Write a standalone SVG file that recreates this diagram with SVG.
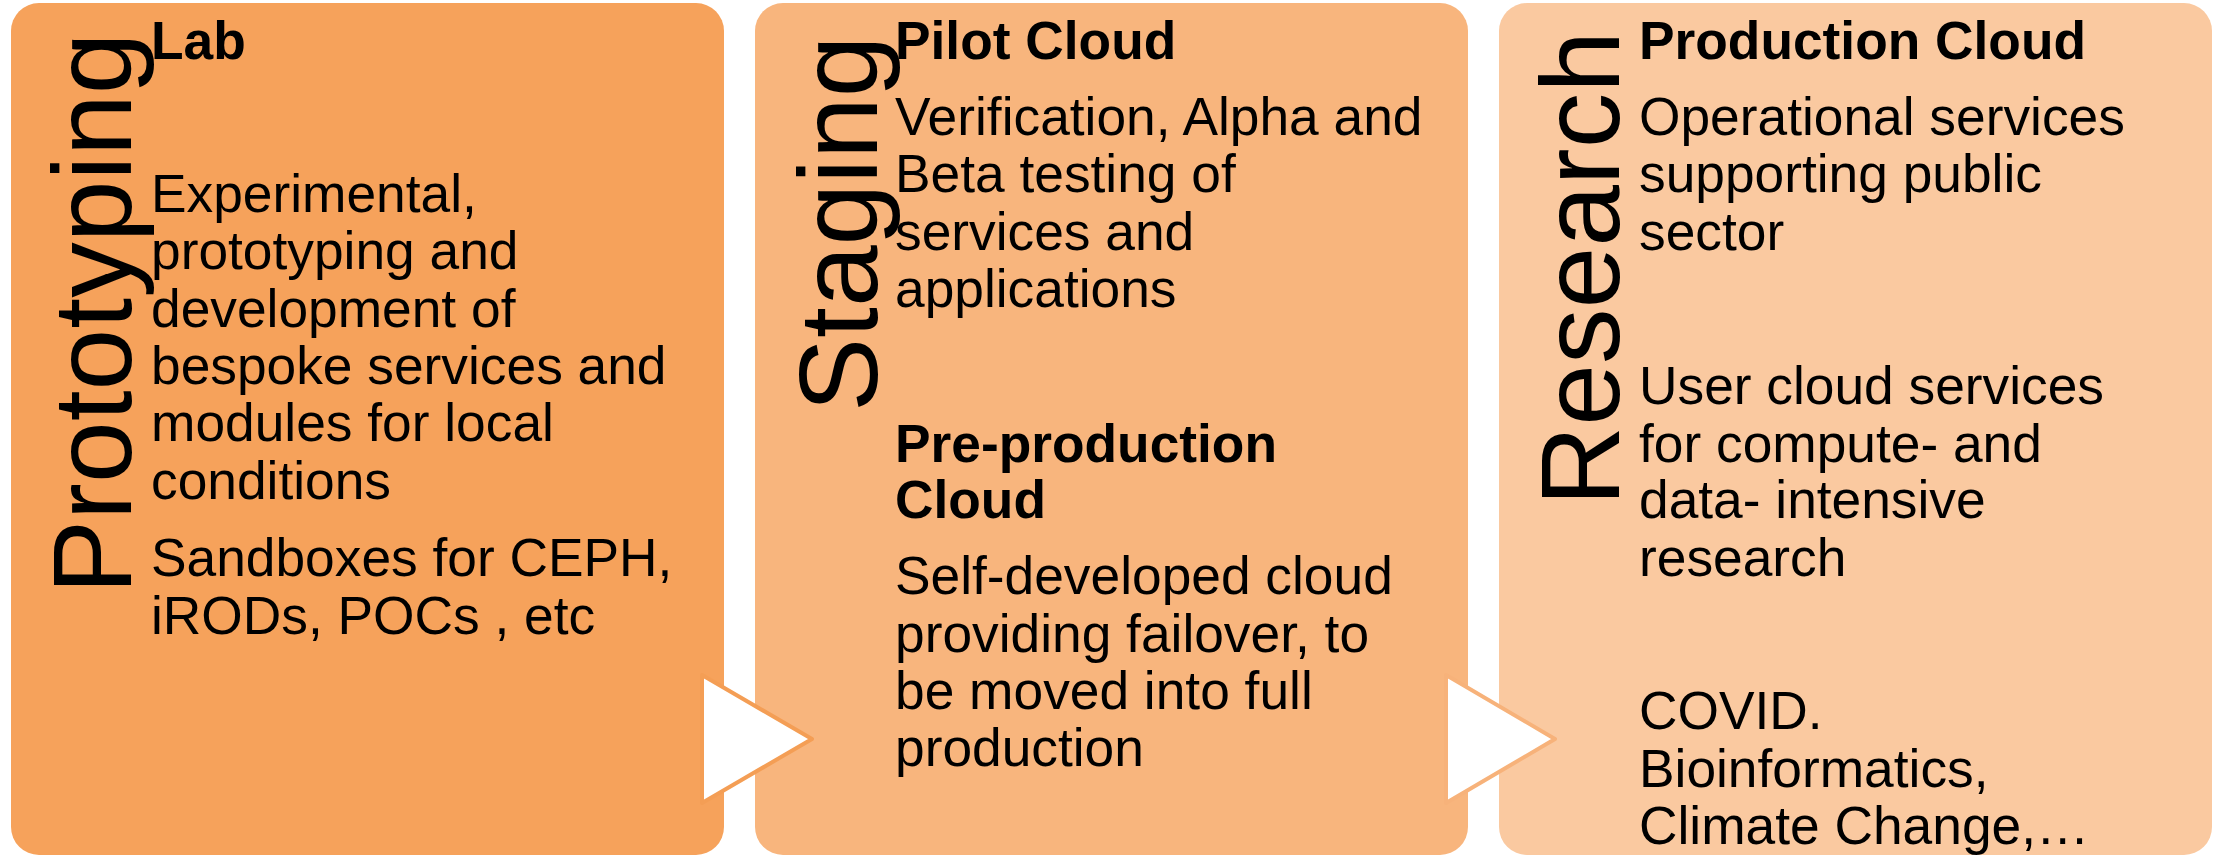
<svg xmlns="http://www.w3.org/2000/svg" width="2218" height="857" viewBox="0 0 2218 857">
<style>
.box{stroke:none}
.t{font-family:"Liberation Sans",Arial,sans-serif;font-size:53.3px;fill:#000}
.b{font-weight:bold}
.v{font-family:"Liberation Sans",Arial,sans-serif;font-size:111px;fill:#000}
.arr{fill:#fff;stroke-width:4;stroke-linejoin:round}
</style>
<rect width="2218" height="857" fill="#fff"/>
<g id="node-prototyping">
<rect class="box" x="11" y="3" width="713" height="852" rx="28" fill="#F6A25B"/>
<text class="v" transform="translate(131,594) rotate(-90)">Prototyping</text>
<text class="t b" x="151" y="59">Lab</text>
<text class="t" x="151" y="212">Experimental,</text>
<text class="t" x="151" y="269">prototyping and</text>
<text class="t" x="151" y="327">development of</text>
<text class="t" x="151" y="384">bespoke services and</text>
<text class="t" x="151" y="441">modules for local</text>
<text class="t" x="151" y="499">conditions</text>
<text class="t" x="151" y="576">Sandboxes for CEPH,</text>
<text class="t" x="151" y="634">iRODs, POCs , etc</text>
</g>
<g id="node-staging">
<rect class="box" x="755" y="3" width="713" height="852" rx="28" fill="#F8B57D"/>
<text class="v" transform="translate(877,412) rotate(-90)">Staging</text>
<text class="t b" x="895" y="59">Pilot Cloud</text>
<text class="t" x="895" y="135">Verification, Alpha and</text>
<text class="t" x="895" y="192">Beta testing of</text>
<text class="t" x="895" y="250">services and</text>
<text class="t" x="895" y="307">applications</text>
<text class="t b" x="895" y="462">Pre-production</text>
<text class="t b" x="895" y="518">Cloud</text>
<text class="t" x="895" y="594">Self-developed cloud</text>
<text class="t" x="895" y="652">providing failover, to</text>
<text class="t" x="895" y="709">be moved into full</text>
<text class="t" x="895" y="766">production</text>
</g>
<g id="node-research">
<rect class="box" x="1499" y="3" width="713" height="852" rx="28" fill="#FAC9A0"/>
<text class="v" transform="translate(1619,506) rotate(-90)">Research</text>
<text class="t b" x="1639" y="59">Production Cloud</text>
<text class="t" x="1639" y="135">Operational services</text>
<text class="t" x="1639" y="192">supporting public</text>
<text class="t" x="1639" y="250">sector</text>
<text class="t" x="1639" y="404">User cloud services</text>
<text class="t" x="1639" y="462">for compute- and</text>
<text class="t" x="1639" y="518">data- intensive</text>
<text class="t" x="1639" y="576">research</text>
<text class="t" x="1639" y="729">COVID.</text>
<text class="t" x="1639" y="787">Bioinformatics,</text>
<text class="t" x="1639" y="844">Climate Change,…</text>
</g>
<g id="connectors">
<polygon class="arr" points="702,675 812,739 702,803" stroke="#F49E55"/>
<polygon class="arr" points="1446,675 1555,739 1446,803" stroke="#F7B27A"/>
</g>
</svg>
